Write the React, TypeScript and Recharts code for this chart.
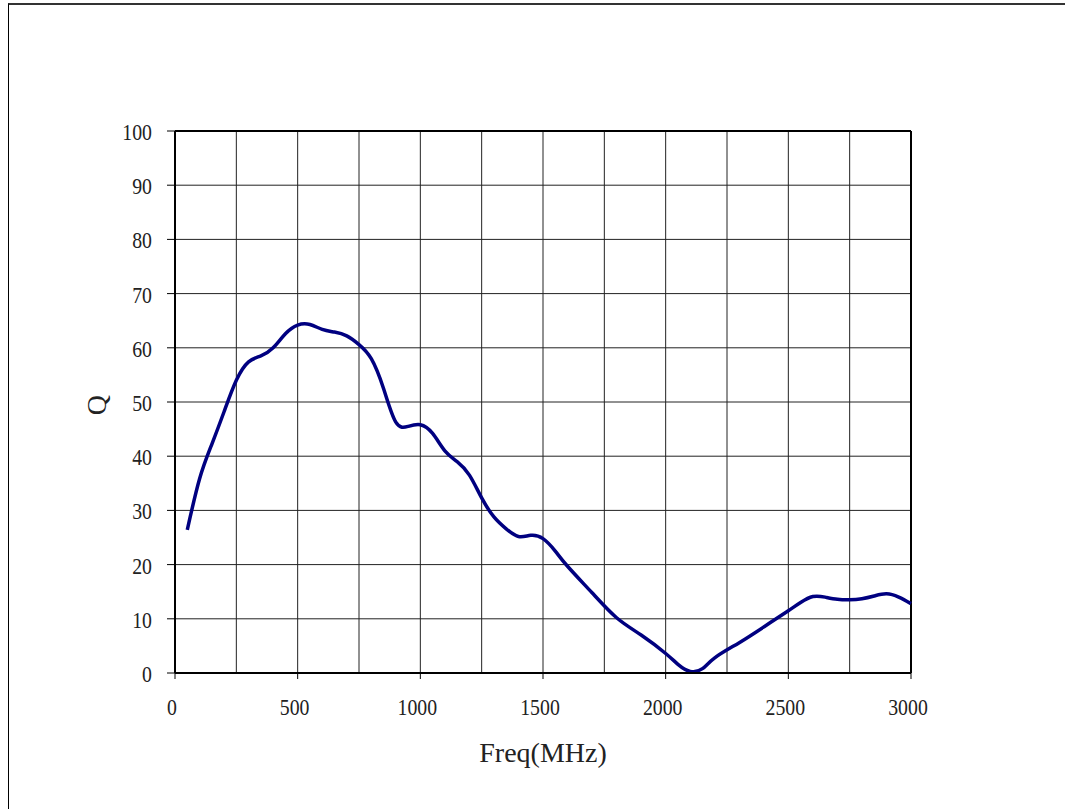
import { CartesianGrid, Label, Line, LineChart, ReferenceLine, XAxis, YAxis } from "recharts";

const freq = [
  50, 100, 150, 200, 250, 300, 350, 400, 450, 500, 550, 600, 650, 700, 750, 800, 850, 900, 950, 1000,
  1050, 1100, 1150, 1200, 1250, 1300, 1350, 1400, 1450, 1500, 1550, 1600, 1700, 1800, 1900, 2000, 2050,
  2100, 2150, 2200, 2300, 2400, 2500, 2550, 2600, 2650, 2700, 2750, 2800, 2850, 2900, 2950, 3000,
];

const qValues = [
  26.4, 35.8, 42.2, 48.2, 54.0, 57.4, 58.5, 60.0, 62.6, 64.2, 64.3, 63.4, 62.9, 62.2, 60.6, 58.0, 52.5,
  46.3, 45.5, 45.8, 44.2, 41.0, 39.0, 36.5, 32.3, 28.8, 26.6, 25.2, 25.4, 24.8, 22.5, 19.7, 14.8, 10.2,
  7.0, 3.6, 1.6, 0.3, 0.8, 2.8, 5.6, 8.5, 11.5, 13.0, 14.1, 14.0, 13.6, 13.5, 13.7, 14.2, 14.6, 14.0, 12.8,
];

const xTicks = [0, 500, 1000, 1500, 2000, 2500, 3000];
const xGrid = [250, 500, 750, 1000, 1250, 1500, 1750, 2000, 2250, 2500, 2750];
const yTicks = [0, 10, 20, 30, 40, 50, 60, 70, 80, 90, 100];

const data = freq.map((f, i) => ({ freq: f, q: qValues[i] }));

const FONT = '"Liberation Serif", "Times New Roman", serif';

const XTick = ({ x, y, payload }: any) => (
  <g transform={`translate(${x - 3},${y})`}>
    <text transform="scale(0.86,1)" textAnchor="middle" dy={26} fontSize={23} fontFamily={FONT} fill="#222">
      {payload.value}
    </text>
  </g>
);

const YTick = ({ x, y, payload }: any) => (
  <g transform={`translate(${x},${y})`}>
    <text transform="scale(0.86,1)" textAnchor="end" dy={9} fontSize={23} fontFamily={FONT} fill="#222">
      {payload.value}
    </text>
  </g>
);

export default function App() {
  return (
    <div style={{ position: "absolute", left: 0, top: 0, width: 1065, height: 809, background: "#fff" }}>
      <div
        style={{
          position: "absolute",
          left: 8,
          top: 3,
          width: 1100,
          height: 900,
          borderLeft: "1px solid #000",
          borderTop: "2px solid #333",
        }}
      />
      <div style={{ position: "absolute", left: 0, top: 0 }}>
        <LineChart width={1065} height={809} data={data} margin={{ top: 131, right: 154, bottom: 76, left: 75 }}>
          <CartesianGrid stroke="#222" strokeWidth={1} vertical={false} />
          {xGrid.map((v) => (
            <ReferenceLine key={v} x={v} stroke="#222" strokeWidth={1} />
          ))}
          <XAxis
            dataKey="freq"
            type="number"
            domain={[0, 3000]}
            ticks={xTicks}
            height={60}
            tickSize={6}
            tickMargin={10}
            tick={<XTick />}
            axisLine={{ stroke: "#000", strokeWidth: 2 }}
            tickLine={{ stroke: "#000" }}
          >
            <Label
              content={({ viewBox }: any) => (
                <text
                  x={viewBox.x + viewBox.width / 2}
                  y={viewBox.y + 89}
                  textAnchor="middle"
                  fontSize={28}
                  fontFamily={FONT}
                  fill="#222"
                >
                  Freq(MHz)
                </text>
              )}
            />
          </XAxis>
          <YAxis
            type="number"
            domain={[0, 100]}
            ticks={yTicks}
            width={100}
            tickSize={8}
            tickMargin={15}
            tick={<YTick />}
            axisLine={{ stroke: "#000", strokeWidth: 2 }}
            tickLine={{ stroke: "#000" }}
          >
            <Label
              content={({ viewBox }: any) => {
                const cx = viewBox.x + 21;
                const cy = viewBox.y + viewBox.height / 2 + 3;
                return (
                  <text
                    x={cx}
                    y={cy}
                    textAnchor="middle"
                    dominantBaseline="central"
                    transform={`rotate(-90, ${cx}, ${cy})`}
                    fontSize={28}
                    fontFamily={FONT}
                    fill="#222"
                  >
                    Q
                  </text>
                );
              }}
            />
          </YAxis>
          <ReferenceLine y={100} stroke="#000" strokeWidth={2} />
          <ReferenceLine x={3000} stroke="#000" strokeWidth={2} />
          <Line
            dataKey="q"
            type="natural"
            stroke="#000080"
            strokeWidth={3.5}
            dot={false}
            isAnimationActive={false}
          />
        </LineChart>
      </div>
    </div>
  );
}
